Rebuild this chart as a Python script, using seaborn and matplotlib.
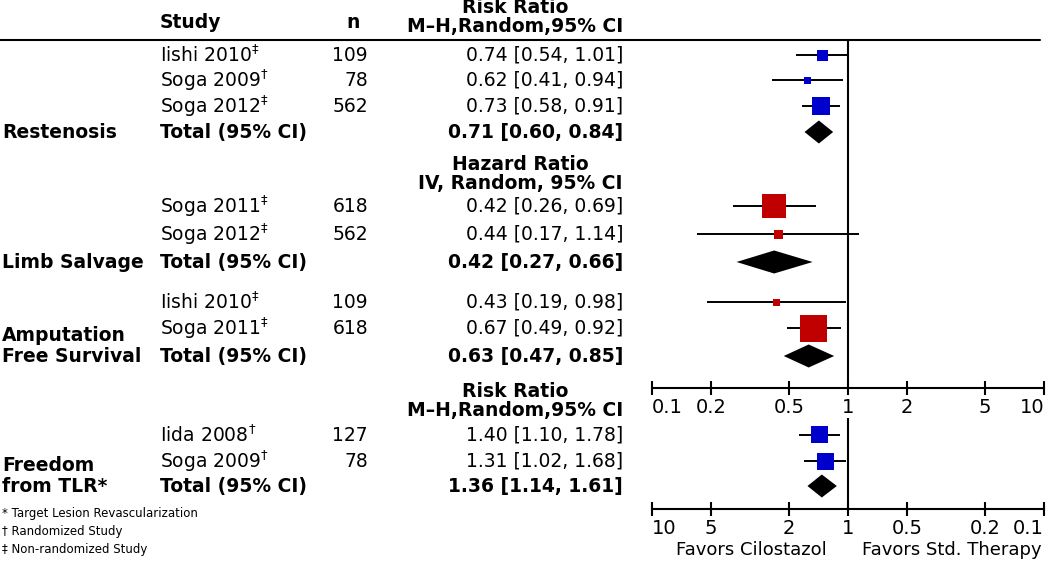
"""
Forest plot: cilostazol vs standard therapy (restenosis, limb salvage,
amputation free survival, freedom from TLR).
"""

import matplotlib
matplotlib.use("Agg")
import matplotlib.pyplot as plt
from matplotlib.ticker import NullLocator
import seaborn as sns
import pandas as pd

# ============================================
# DATA
# ============================================

rest_study = ['Iishi 2010', 'Soga 2009', 'Soga 2012']
rest_mark = ['‡', '†', '‡']
rest_n = [109, 78, 562]
rest_rr = [0.74, 0.62, 0.73]
rest_lo = [0.54, 0.41, 0.58]
rest_hi = [1.01, 0.94, 0.91]
rest_total = [0.71, 0.60, 0.84]

limb_study = ['Soga 2011', 'Soga 2012']
limb_mark = ['‡', '‡']
limb_n = [618, 562]
limb_hr = [0.42, 0.44]
limb_lo = [0.26, 0.17]
limb_hi = [0.69, 1.14]
limb_total = [0.42, 0.27, 0.66]

amp_study = ['Iishi 2010', 'Soga 2011']
amp_mark = ['‡', '‡']
amp_n = [109, 618]
amp_hr = [0.43, 0.67]
amp_lo = [0.19, 0.49]
amp_hi = [0.98, 0.92]
amp_total = [0.63, 0.47, 0.85]

tlr_study = ['Iida 2008', 'Soga 2009']
tlr_mark = ['†', '†']
tlr_n = [127, 78]
tlr_rr = [1.40, 1.31]
tlr_lo = [1.10, 1.02]
tlr_hi = [1.78, 1.68]
tlr_total = [1.36, 1.14, 1.61]

upper_ticks = [0.1, 0.2, 0.5, 1, 2, 5, 10]
upper_ticklabels = ['0.1', '0.2', '0.5', '1', '2', '5', '10']
lower_ticks = [10, 5, 2, 1, 0.5, 0.2, 0.1]
lower_ticklabels = ['10', '5', '2', '1', '0.5', '0.2', '0.1']

footnotes = ['* Target Lesion Revascularization',
             '† Randomized Study',
             '‡ Non-randomized Study']

# ============================================
# STYLE / LAYOUT (pixel units, measured from the top)
# ============================================

sns.set_theme(style="white")
plt.rcParams['font.family'] = ['DejaVu Sans']
plt.rcParams['mathtext.fontset'] = 'dejavusans'
plt.rcParams['text.color'] = 'black'
plt.rcParams['xtick.color'] = 'black'
plt.rcParams['axes.edgecolor'] = 'black'

BLUE = '#0000CC'
RED = '#C00000'
W, H = 1050, 561
FS = 13.5          # body text
X_GROUP, X_STUDY, X_N, X_CI = 2, 160, 368, 623
PLOT_X0, PLOT_X1 = 652, 1044
UPPER_TOP, UPPER_AXIS = 40, 388
LOWER_TOP, LOWER_AXIS = 418, 509
DIAMOND_HALF = 11.5

SUP = {'‡': r'$^{\ddag}$', '†': r'$^{\dag}$'}

groups = [
    dict(label='Restenosis', study=rest_study, mark=rest_mark, n=rest_n,
         est=rest_rr, lo=rest_lo, hi=rest_hi, total=rest_total, color=BLUE,
         rows=[55, 80, 106], total_y=132, box=[11, 7, 18],
         header=None, label_y=132, panel='upper'),
    dict(label='Limb Salvage', study=limb_study, mark=limb_mark, n=limb_n,
         est=limb_hr, lo=limb_lo, hi=limb_hi, total=limb_total, color=RED,
         rows=[206, 234], total_y=262, box=[24, 9],
         header=('Hazard Ratio\nIV, Random, 95% CI', 174), label_y=262,
         panel='upper'),
    dict(label='Amputation\nFree Survival', study=amp_study, mark=amp_mark,
         n=amp_n, est=amp_hr, lo=amp_lo, hi=amp_hi, total=amp_total,
         color=RED, rows=[302, 328], total_y=356, box=[7, 27],
         header=None, label_y=346, panel='upper'),
    dict(label='Freedom\nfrom TLR*', study=tlr_study, mark=tlr_mark, n=tlr_n,
         est=tlr_rr, lo=tlr_lo, hi=tlr_hi, total=tlr_total, color=BLUE,
         rows=[435, 461], total_y=486, box=[17, 17],
         header=('Risk Ratio\nM\u2013H,Random,95% CI', 401), label_y=476,
         panel='lower'),
]

# ============================================
# FIGURE
# ============================================

fig = plt.figure(figsize=(W / 100, H / 100), dpi=100)

# text canvas in pixel coordinates
canvas = fig.add_axes([0, 0, 1, 1])
canvas.set_xlim(0, W)
canvas.set_ylim(H, 0)
canvas.axis('off')


def panel_axes(top, bottom, reverse):
    ax = fig.add_axes([PLOT_X0 / W, 1 - bottom / H,
                       (PLOT_X1 - PLOT_X0) / W, (bottom - top) / H])
    ax.set_facecolor('none')
    ax.set_xscale('log')
    ax.set_xlim((10, 0.1) if reverse else (0.1, 10))
    ax.set_ylim(bottom, top)
    for side in ['top', 'left', 'right']:
        ax.spines[side].set_visible(False)
    ax.spines['bottom'].set_linewidth(1.5)
    ax.axvline(1, color='black', lw=1.5, zorder=1)
    ax.set_yticks([])
    return ax


ax_up = panel_axes(UPPER_TOP, UPPER_AXIS, reverse=False)
ax_low = panel_axes(LOWER_TOP, LOWER_AXIS, reverse=True)

for ax, ticks, labels in [(ax_up, upper_ticks, upper_ticklabels),
                          (ax_low, lower_ticks, lower_ticklabels)]:
    ax.set_xticks(ticks)
    ax.set_xticklabels(labels)
    ax.xaxis.set_minor_locator(NullLocator())
    ax.tick_params(axis='x', which='major', bottom=True, direction='inout',
                   length=10, width=1.5, pad=2, labelsize=14)
    # keep the end labels inside the axis span
    major = ax.xaxis.get_major_ticks()
    major[0].label1.set_horizontalalignment('left')
    major[-1].label1.set_horizontalalignment('right')

for g in groups:
    ax = ax_up if g['panel'] == 'upper' else ax_low

    # confidence intervals
    ax.hlines(g['rows'], g['lo'], g['hi'], color='black', lw=1.4, zorder=2)

    # study boxes, area ~ weight
    df = pd.DataFrame({'est': g['est'], 'y': g['rows'],
                       'area': [(b * 0.72) ** 2 for b in g['box']]})
    sns.scatterplot(data=df, x='est', y='y', marker='s', s=df['area'],
                    color=g['color'], linewidth=0, ax=ax, zorder=3,
                    legend=False)
    ax.set(xlabel='', ylabel='')

    # pooled diamond
    est, lo, hi = g['total']
    ty = g['total_y']
    ax.fill([lo, est, hi, est],
            [ty, ty - DIAMOND_HALF, ty, ty + DIAMOND_HALF],
            color='black', lw=0, zorder=3)

    # table text
    canvas.text(X_GROUP, g['label_y'], g['label'], ha='left', va='center',
                fontsize=FS, fontweight='bold', linespacing=1.15)
    for name, mark, n, e, l, h, y in zip(g['study'], g['mark'], g['n'],
                                         g['est'], g['lo'], g['hi'],
                                         g['rows']):
        canvas.text(X_STUDY, y, name + SUP[mark], ha='left', va='center',
                    fontsize=FS)
        canvas.text(X_N, y, str(n), ha='right', va='center', fontsize=FS)
        canvas.text(X_CI, y, f'{e:.2f} [{l:.2f}, {h:.2f}]', ha='right',
                    va='center', fontsize=FS)
    canvas.text(X_STUDY, ty, 'Total (95% CI)', ha='left', va='center',
                fontsize=FS, fontweight='bold')
    canvas.text(X_CI, ty, f'{est:.2f} [{lo:.2f}, {hi:.2f}]', ha='right',
                va='center', fontsize=FS, fontweight='bold')
    if g['header']:
        txt, hy = g['header']
        canvas.text(X_CI, hy, txt, ha='right', va='center',
                    multialignment='center', fontsize=FS, fontweight='bold',
                    linespacing=1.0)

# column headers
canvas.text(X_STUDY, 22, 'Study', ha='left', va='center', fontsize=FS,
            fontweight='bold')
canvas.text(353, 22, 'n', ha='center', va='center', fontsize=FS,
            fontweight='bold')
canvas.text(X_CI, 17, 'Risk Ratio\nM\u2013H,Random,95% CI', ha='right',
            va='center', multialignment='center', fontsize=FS,
            fontweight='bold', linespacing=1.0)
canvas.axhline(UPPER_TOP, xmin=0, xmax=1040 / W, color='black', lw=1.5)

# footnotes
for i, note in enumerate(footnotes):
    canvas.text(X_GROUP, 513 + 18 * i, note, ha='left', va='center',
                fontsize=8.5)

# direction labels
canvas.text(751, 550, 'Favors Cilostazol', ha='center', va='center',
            fontsize=13)
canvas.text(952, 550, 'Favors Std. Therapy', ha='center', va='center',
            fontsize=13)

fig.savefig('out.png', dpi=100, facecolor='white')
